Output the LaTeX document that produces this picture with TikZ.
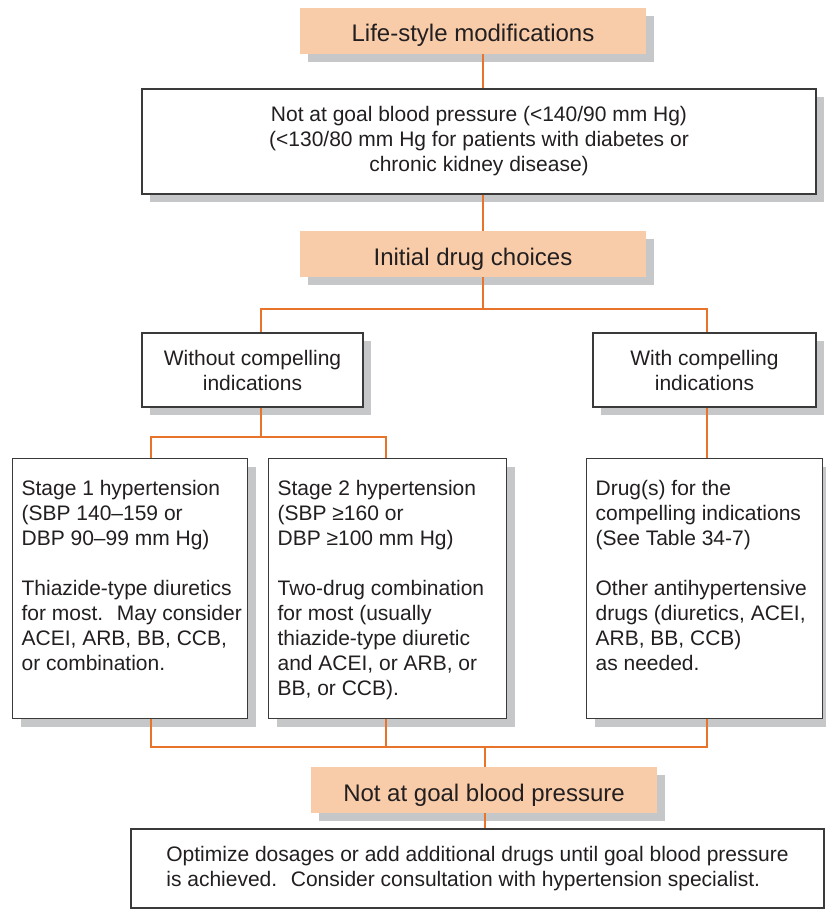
\documentclass[tikz,border=0pt]{standalone}
\usepackage{fontspec}
\setmainfont{Liberation Sans}
\usetikzlibrary{shadows}
\definecolor{peach}{HTML}{F8CCA9}
\definecolor{conncol}{HTML}{E8732A}
\definecolor{shadowgray}{HTML}{C6C7C9}
\definecolor{bordercol}{HTML}{3A3A3A}
\definecolor{textcol}{HTML}{231F20}
\newcommand{\stagetext}[3]{\parbox[c][#1][t]{#2}{\raggedright\leftskip=9pt\rule{0pt}{37pt}#3}}
\begin{document}
\begin{tikzpicture}[x=1pt,y=-1pt,
  shadowed/.style={drop shadow={shadow xshift=8pt,shadow yshift=-8pt,fill=shadowgray,opacity=1}},
  header/.style={shadowed, fill=peach, inner sep=0pt, minimum width=346pt,
    text height=34pt, text depth=12pt, anchor=base, text=textcol,
    font=\fontsize{24}{28}\selectfont},
  boxbase/.style={draw=bordercol, line width=1.2pt, fill=white, inner sep=0pt,
    text=textcol, font=\fontsize{21}{25}\selectfont},
  whitebox/.style={boxbase, shadowed, align=center},
  stagebox/.style={boxbase, shadowed, anchor=north west},
  conn/.style={draw=conncol, line width=1.6pt, line join=miter}]
\useasboundingbox (0,0) rectangle (825,909);

\node[header] (life) at (473,42) {Life-style modifications};
\node[whitebox, minimum width=674pt, minimum height=105pt] (goal1) at (479,141.5)
  {Not at goal blood pressure (<140/90 mm Hg)\\(<130/80 mm Hg for patients with diabetes or\\chronic kidney disease)};
\node[header] (init) at (473,265) {Initial drug choices};
\node[whitebox, minimum width=221pt, minimum height=74pt] (without) at (252.5,370)
  {Without compelling\\indications};
\node[whitebox, minimum width=223pt, minimum height=74pt] (with) at (704.5,370)
  {With compelling\\indications};

\node[stagebox] (stage1) at (12,458) {\stagetext{260pt}{235pt}{Stage 1 hypertension\\(SBP 140–159 or\\DBP 90–99 mm Hg)\\[25pt]Thiazide-type diuretics\\for most.~ May consider\\ACEI, ARB, BB, CCB,\\or combination.}};
\node[stagebox] (stage2) at (268,458) {\stagetext{260pt}{238pt}{Stage 2 hypertension\\(SBP ≥160 or\\DBP ≥100 mm Hg)\\[25pt]Two-drug combination\\for most (usually\\thiazide-type diuretic\\and ACEI, or ARB, or\\BB, or CCB).}};
\node[stagebox] (drugs) at (586,458) {\stagetext{260pt}{236pt}{Drug(s) for the\\compelling indications\\(See Table 34-7)\\[25pt]Other antihypertensive\\drugs (diuretics, ACEI,\\ARB, BB, CCB)\\as needed.}};

\node[header] (goal2) at (484,801) {Not at goal blood pressure};
\node[boxbase, align=left, minimum width=693pt, minimum height=79pt] (final) at (477.5,868.5)
  {Optimize dosages or add additional drugs until goal blood pressure\\is achieved.~ Consider consultation with hypertension specialist.};

\coordinate (jA) at (483,309);
\coordinate (jL) at (261,309);
\coordinate (jR) at (707,309);
\coordinate (kM) at (261,437);
\coordinate (kL) at (151,437);
\coordinate (kR) at (386,437);
\coordinate (mL) at (151,747);
\coordinate (mM) at (386,747);
\coordinate (mR) at (707,747);
\coordinate (mC) at (485,747);

\draw[conn] (life.south -| jA) -- (goal1.north -| jA);
\draw[conn] (goal1.south -| jA) -- (init.north -| jA);
\draw[conn] (init.south -| jA) -- (jA);
\draw[conn] (without.north -| jL) -- (jL) -- (jR) -- (with.north -| jR);
\draw[conn] (without.south -| kM) -- (kM);
\draw[conn] (stage1.north -| kL) -- (kL) -- (kR) -- (stage2.north -| kR);
\draw[conn] (with.south -| jR) -- (drugs.north -| jR);
\draw[conn] (stage1.south -| mL) -- (mL) -- (mR) -- (drugs.south -| mR);
\draw[conn] (stage2.south -| mM) -- (mM);
\draw[conn] (mC) -- (goal2.north -| mC);
\draw[conn] (goal2.south -| mC) -- (final.north -| mC);
\end{tikzpicture}
\end{document}
